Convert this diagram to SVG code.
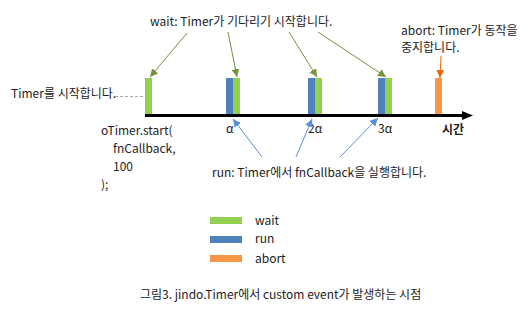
<svg xmlns="http://www.w3.org/2000/svg" width="528" height="317" viewBox="0 0 528 317">
  <style>
    text { font-family: "Noto Sans CJK KR", "Noto Sans", sans-serif; font-size: 12px; fill: #222; }
    .cap { font-size: 12px; }
    .wait { fill: #92d050; }
    .run { fill: #4f81bd; }
    .abort { fill: #f79646; }
    .la { stroke: #77933c; stroke-width: 1; fill: none; }
    .lr { stroke: #5b8fd6; stroke-width: 1; fill: none; }
    .lo { stroke: #e46c0a; stroke-width: 1; fill: none; }
  </style>
  <defs>
    <marker id="mWait" viewBox="0 0 10 10" refX="10" refY="5" markerWidth="8" markerHeight="8" orient="auto" markerUnits="userSpaceOnUse">
      <path d="M0,0 L10,5 L0,10 z" fill="#77933c"/>
    </marker>
    <marker id="mRun" viewBox="0 0 10 10" refX="10" refY="5" markerWidth="8" markerHeight="8" orient="auto" markerUnits="userSpaceOnUse">
      <path d="M0,0 L10,5 L0,10 z" fill="#5b8fd6"/>
    </marker>
    <marker id="mAbort" viewBox="0 0 10 10" refX="10" refY="5" markerWidth="8" markerHeight="8" orient="auto" markerUnits="userSpaceOnUse">
      <path d="M0,0 L10,5 L0,10 z" fill="#e46c0a"/>
    </marker>
  </defs>

  <!-- event bars on the time axis -->
  <g id="bar-start"><rect class="wait" x="145" y="78" width="7" height="37"/></g>
  <g id="bar-1">
    <rect class="run" x="226" y="78" width="7" height="37"/>
    <rect class="wait" x="233" y="78" width="7" height="37"/>
  </g>
  <g id="bar-2">
    <rect class="run" x="308" y="78" width="7" height="37"/>
    <rect class="wait" x="315" y="78" width="7" height="37"/>
  </g>
  <g id="bar-3">
    <rect class="run" x="378" y="78" width="7" height="37"/>
    <rect class="wait" x="385" y="78" width="7" height="37"/>
  </g>
  <g id="bar-abort"><rect class="abort" x="435" y="78" width="7" height="37"/></g>

  <!-- time axis -->
  <g id="axis">
    <line x1="145" y1="115.5" x2="464" y2="115.5" stroke="#000" stroke-width="3"/>
    <path d="M462,111 L473,115.5 L462,120 z" fill="#000"/>
    <text x="226" y="133">α</text>
    <text x="308" y="133">2α</text>
    <text x="378" y="133">3α</text>
    <text x="442" y="134" font-weight="bold">시간</text>
  </g>

  <!-- labels -->
  <g id="label-wait"><text x="150" y="26">wait: Timer가 기다리기 시작합니다.</text></g>
  <g id="label-abort">
    <text x="401" y="35">abort: Timer가 동작을</text>
    <text x="401" y="52">중지합니다.</text>
  </g>
  <g id="label-start"><text x="11" y="98">Timer를 시작합니다.</text></g>
  <g id="label-code">
    <text x="101" y="135">oTimer.start(</text>
    <text x="113" y="153">fnCallback,</text>
    <text x="113" y="171">100</text>
    <text x="101" y="189">);</text>
  </g>
  <g id="label-run"><text x="212" y="177">run: Timer에서 fnCallback을 실행합니다.</text></g>

  <!-- connectors -->
  <g id="connectors">
    <line class="la" x1="187" y1="33" x2="150" y2="77" marker-end="url(#mWait)"/>
    <line class="la" x1="228" y1="32" x2="237" y2="77" marker-end="url(#mWait)"/>
    <line class="la" x1="289" y1="32" x2="317" y2="77" marker-end="url(#mWait)"/>
    <line class="la" x1="318" y1="32" x2="386" y2="77" marker-end="url(#mWait)"/>
    <line class="lo" x1="441" y1="56" x2="440" y2="78" marker-end="url(#mAbort)"/>
    <line x1="115" y1="96.5" x2="145" y2="96.5" stroke="#aaa" stroke-width="1" stroke-dasharray="3,2"/>
    <line class="lr" x1="262" y1="157" x2="233" y2="119" marker-end="url(#mRun)"/>
    <line class="lr" x1="296" y1="157" x2="312" y2="119" marker-end="url(#mRun)"/>
    <line class="lr" x1="340" y1="157" x2="378" y2="118" marker-end="url(#mRun)"/>
  </g>

  <!-- legend -->
  <g id="legend">
    <rect class="wait" x="210" y="217" width="32" height="7"/>
    <rect class="run" x="210" y="236" width="32" height="7"/>
    <rect class="abort" x="210" y="255" width="32" height="7"/>
    <text x="255" y="225">wait</text>
    <text x="255" y="243">run</text>
    <text x="255" y="263">abort</text>
  </g>

  <g id="caption"><text class="cap" x="140" y="299">그림3. jindo.Timer에서 custom event가 발생하는 시점</text></g>
</svg>
